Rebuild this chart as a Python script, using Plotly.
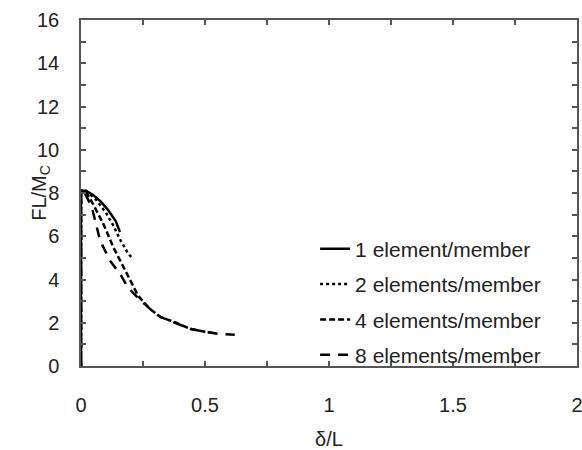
import plotly.graph_objects as go

names = ["1 element/member", "2 elements/member", "4 elements/member", "8 elements/member"]

x1 = [0, 0, 0.02, 0.05, 0.08, 0.11, 0.14, 0.157]
y1 = [0, 8.1, 8.1, 7.9, 7.6, 7.2, 6.7, 6.2]

x2 = [0, 0, 0.02, 0.06, 0.10, 0.13, 0.16, 0.19, 0.21]
y2 = [0, 8.1, 8.1, 7.7, 7.1, 6.5, 5.8, 5.2, 4.95]

x4 = [0, 0, 0.02, 0.048, 0.089, 0.13, 0.185, 0.23, 0.278, 0.32, 0.383, 0.44, 0.50, 0.55]
y4 = [0, 8.1, 8.05, 7.5, 6.6, 5.5, 4.27, 3.25, 2.64, 2.27, 2.0, 1.72, 1.58, 1.5]

x8 = [0, 0, 0.02, 0.044, 0.077, 0.117, 0.157, 0.19, 0.23, 0.278, 0.32, 0.383, 0.44, 0.50, 0.56, 0.62]
y8 = [0, 8.1, 7.9, 7.33, 5.8, 4.87, 4.27, 3.62, 3.15, 2.64, 2.27, 2.0, 1.72, 1.58, 1.48, 1.44]

xs = [x1, x2, x4, x8]
ys = [y1, y2, y4, y8]
dashes = ["solid", "dot", "6px,3px", "10px,8px"]

fig = go.Figure()
for i in range(4):
    fig.add_trace(go.Scatter(
        x=xs[i], y=ys[i], mode="lines", name=names[i], legendgroup=str(i),
        line=dict(color="black", width=2.5, dash=dashes[i]),
    ))

font = "Liberation Sans, Arial, sans-serif"
axis_common = dict(
    showgrid=False, zeroline=False, showline=True, linecolor="#555", linewidth=1.5,
    mirror="ticks", ticks="inside", ticklen=5, tickcolor="#555", tickwidth=1.5,
    tickfont=dict(family=font, size=20, color="#222"), automargin=False,
    ticklabeloverflow="allow",
)
fig.update_xaxes(range=[0, 2], tickvals=[0, 0.5, 1, 1.5, 2], ticktext=["0", "0.5", "1", "1.5", "2"],
                 minor=dict(dtick=0.25, ticks="inside", ticklen=5, tickcolor="#555", tickwidth=1.5),
                 title=dict(text="δ/L", font=dict(family=font, size=20, color="#222"), standoff=18),
                 ticklabelstandoff=20, **axis_common)
fig.update_yaxes(range=[0, 16], dtick=2,
                 minor=dict(dtick=1, ticks="inside", ticklen=5, tickcolor="#555", tickwidth=1.5),
                 ticklabelstandoff=16, **axis_common)

fig.add_annotation(text="FL/M<sub>C</sub>", xref="paper", yref="paper", x=-0.083, y=0.5,
                   xanchor="center", yanchor="middle", textangle=-90, showarrow=False,
                   font=dict(family=font, size=20, color="#222"))

fig.update_layout(
    width=582, height=450,
    margin=dict(l=81, r=5, t=20, b=84),
    plot_bgcolor="white", paper_bgcolor="white",
    font=dict(family=font, size=20, color="#222"),
    showlegend=True,
    legend=dict(x=0.472, y=0.397, xanchor="left", yanchor="top", bgcolor="rgba(0,0,0,0)",
                tracegroupgap=5, traceorder="grouped", font=dict(family=font, size=21, color="#222")),
)
fig.write_html("out.html", config={"displayModeBar": False},
               post_script="document.body.style.margin='0';document.body.style.overflow='hidden';")
